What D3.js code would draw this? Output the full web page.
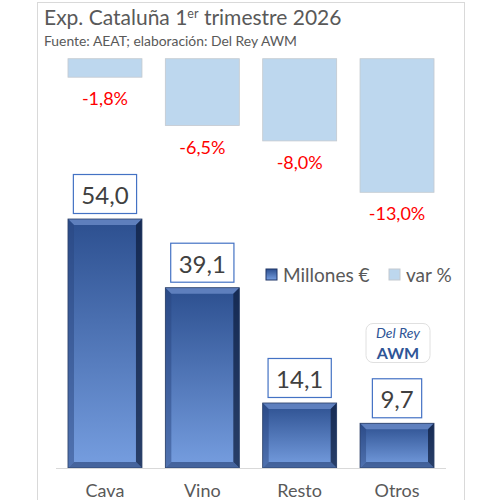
<!DOCTYPE html>
<html>
<head>
<meta charset="utf-8">
<script src="https://cdn.jsdelivr.net/npm/d3@7"></script>
<style>
  body { margin: 0; background: #fff; }
  text { font-family: Lato, "Open Sans", sans-serif; }
</style>
</head>
<body>
<div id="chart"></div>
<script>
const categories = ["Cava", "Vino", "Resto", "Otros"];
const millones = [54.0, 39.1, 14.1, 9.7];
const varPct = [-1.8, -6.5, -8.0, -13.0];

const data = categories.map((c, i) => ({ cat: c, mil: millones[i], pct: varPct[i] }));

const width = 500;
const height = 500;

const locale = d3.formatLocale({ decimal: ",", thousands: ".", grouping: [3], currency: ["", "€"], minus: "-" });
const fmt = locale.format(".1f");

const svg = d3.select("#chart")
  .append("svg")
  .attr("width", width)
  .attr("height", height);

// gradient for the main bars
const defs = svg.append("defs");
const grad = defs.append("linearGradient")
  .attr("id", "barGrad").attr("x1", 0).attr("y1", 0).attr("x2", 0).attr("y2", 1);
grad.append("stop").attr("offset", "0%").attr("stop-color", "#2c4f8f");
grad.append("stop").attr("offset", "100%").attr("stop-color", "#769ee0");

// chart frame
svg.append("rect")
  .attr("x", 37.5).attr("y", 2.5)
  .attr("width", 427).attr("height", 520)
  .attr("fill", "#fff")
  .attr("stroke", "#d9d9d9");

svg.append("text")
  .attr("x", 44).attr("y", 25)
  .style("font-size", "21px")
  .style("fill", "#595959")
  .html('Exp. Cataluña 1<tspan dy="-7" style="font-size:12.5px">er</tspan><tspan dy="7"> trimestre 2026</tspan>');

svg.append("text")
  .attr("x", 44).attr("y", 46)
  .attr("textLength", 253)
  .attr("lengthAdjust", "spacingAndGlyphs")
  .style("font-size", "13.6px")
  .style("fill", "#595959")
  .text("Fuente: AEAT; elaboración: Del Rey AWM");

const x = d3.scaleBand()
  .domain(categories)
  .range([56.3, 445.7])
  .paddingInner(0.24)
  .paddingOuter(0.12);

const yVar = d3.scaleLinear().domain([0, -13]).range([58.7, 192.3]);
const yMil = d3.scaleLinear().domain([0, 54]).range([468, 219]);

// ===== var % bars =====
svg.selectAll("rect.var")
  .data(data)
  .enter()
  .append("rect")
  .attr("class", "var")
  .attr("x", d => x(d.cat))
  .attr("y", yVar(0))
  .attr("width", x.bandwidth())
  .attr("height", d => yVar(d.pct) - yVar(0))
  .attr("fill", "#bdd7ee")
  .attr("stroke", "#c4c9cf")
  .attr("stroke-width", 0.8);

svg.selectAll("text.varlab")
  .data(data)
  .enter()
  .append("text")
  .attr("class", "varlab")
  .attr("x", d => x(d.cat) + x.bandwidth() / 2)
  .attr("y", d => yVar(d.pct) + 28)
  .attr("text-anchor", "middle")
  .style("font-size", "18px")
  .style("fill", "#ff0000")
  .text(d => fmt(d.pct) + "%");

// ===== Millones bars with bevel =====
const bev = 6;
const w = x.bandwidth();
const bars = svg.selectAll("g.bar")
  .data(data)
  .enter()
  .append("g")
  .attr("class", "bar")
  .attr("transform", d => `translate(${x(d.cat)},${yMil(d.mil)})`);

bars.append("rect")
  .attr("width", w)
  .attr("height", d => yMil(0) - yMil(d.mil))
  .attr("fill", "url(#barGrad)");

// top bevel
bars.append("path")
  .attr("d", `M0,0 L${w},0 L${w - bev},${bev} L${bev},${bev} Z`)
  .attr("fill", "#6f8fcc").attr("opacity", 0.75);
// left bevel
bars.append("path")
  .attr("d", d => { const h = yMil(0) - yMil(d.mil); return `M0,0 L${bev},${bev} L${bev},${h - bev} L0,${h} Z`; })
  .attr("fill", "#2a4680").attr("opacity", 0.5);
// right bevel
bars.append("path")
  .attr("d", d => { const h = yMil(0) - yMil(d.mil); return `M${w},0 L${w - bev},${bev} L${w - bev},${h - bev} L${w},${h} Z`; })
  .attr("fill", "#0f1f40").attr("opacity", 0.75);
// bottom bevel
bars.append("path")
  .attr("d", d => { const h = yMil(0) - yMil(d.mil); return `M0,${h} L${bev},${h - bev} L${w - bev},${h - bev} L${w},${h} Z`; })
  .attr("fill", "#1e3566").attr("opacity", 0.55);
bars.append("rect")
  .attr("width", w)
  .attr("height", d => yMil(0) - yMil(d.mil))
  .attr("fill", "none")
  .attr("stroke", "#2b3f66")
  .attr("stroke-width", 0.8);

// baseline
svg.append("line")
  .attr("x1", 56).attr("x2", 446)
  .attr("y1", yMil(0) + 0.5).attr("y2", yMil(0) + 0.5)
  .attr("stroke", "#d9d9d9");

// data label boxes
const labs = svg.selectAll("g.lab")
  .data(data)
  .enter()
  .append("g")
  .attr("class", "lab");

labs.append("text")
  .attr("x", d => x(d.cat) + x.bandwidth() / 2)
  .attr("y", d => yMil(d.mil) - 15)
  .attr("text-anchor", "middle")
  .style("font-size", "24px")
  .style("fill", "#404040")
  .text(d => fmt(d.mil));

labs.each(function(d) {
  const g = d3.select(this);
  const tw = g.select("text").node().getComputedTextLength();
  g.insert("rect", "text")
    .attr("x", x(d.cat) + x.bandwidth() / 2 - tw / 2 - 8)
    .attr("y", yMil(d.mil) - 44.5)
    .attr("width", tw + 16)
    .attr("height", 39)
    .attr("fill", "#fff")
    .attr("stroke", "#4472c4")
    .attr("stroke-width", 1.2);
});

// category labels (cut by the bottom edge, as in the reference)
svg.selectAll("text.cat")
  .data(data)
  .enter()
  .append("text")
  .attr("class", "cat")
  .attr("x", d => x(d.cat) + x.bandwidth() / 2)
  .attr("y", 497)
  .attr("text-anchor", "middle")
  .style("font-size", "18px")
  .style("fill", "#595959")
  .text(d => d.cat);

// legend
const legend = svg.append("g").attr("transform", "translate(266,269)");
legend.append("rect").attr("width", 11).attr("height", 11)
  .attr("fill", "url(#barGrad)").attr("stroke", "#1e3566");
legend.append("text").attr("x", 17).attr("y", 12.5)
  .style("font-size", "19px").style("fill", "#595959").text("Millones €");
legend.append("rect").attr("x", 123).attr("width", 11).attr("height", 11)
  .attr("fill", "#bdd7ee").attr("stroke", "#c4c9cf");
legend.append("text").attr("x", 140).attr("y", 12.5)
  .style("font-size", "19px").style("fill", "#595959").text("var %");

// Del Rey AWM badge
const badge = svg.append("g").attr("transform", "translate(366,323.5)");
badge.append("rect").attr("width", 64).attr("height", 39).attr("rx", 7)
  .attr("fill", "#fff").attr("stroke", "#e0e0e0");
badge.append("text").attr("x", 32).attr("y", 14.5).attr("text-anchor", "middle")
  .style("font-size", "14px").style("font-style", "italic").style("fill", "#2f5597").text("Del Rey");
badge.append("text").attr("x", 32).attr("y", 35.5).attr("text-anchor", "middle")
  .style("font-size", "16px").style("font-weight", "bold").style("fill", "#2f5597").text("AWM");
</script>
</body>
</html>
